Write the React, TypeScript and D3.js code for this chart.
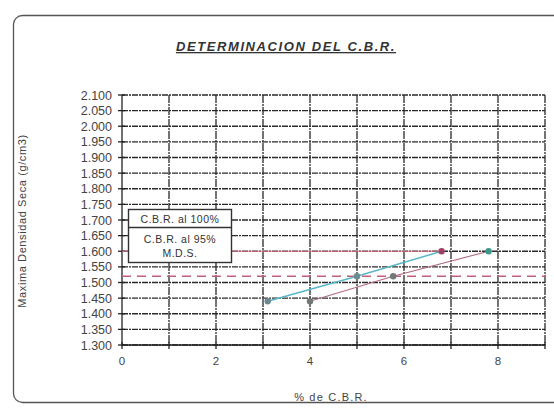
import React from "react";
import * as d3 from "d3";

const title = "DETERMINACION DEL C.B.R.";
const xLabel = "% de C.B.R.";
const yLabel = "Maxima Densidad Seca (g/cm3)";
const legendLines = ["C.B.R. al 100%", "C.B.R. al 95%", "M.D.S."];

const seriesA_x = [3.1, 5.0, 6.8];
const seriesA_y = [1.44, 1.52, 1.6];
const seriesB_x = [4.0, 5.77, 7.8];
const seriesB_y = [1.44, 1.52, 1.6];
const mds100 = 1.6;
const mds95 = 1.52;

const xTicks = [0, 2, 4, 6, 8];
const yTicks = d3.range(0, 17).map((i) => +(1.3 + i * 0.05).toFixed(3));

const W = 554;
const H = 408;
const x = d3.scaleLinear().domain([0, 9]).range([122, 545]);
const y = d3.scaleLinear().domain([1.3, 2.1]).range([345, 95]);

const fmt = (v: number) => v.toFixed(3);

export default function App() {
  const line = d3
    .line<[number, number]>()
    .x((d) => x(d[0]))
    .y((d) => y(d[1]));
  const ptsA = seriesA_x.map((v, i) => [v, seriesA_y[i]] as [number, number]);
  const ptsB = seriesB_x.map((v, i) => [v, seriesB_y[i]] as [number, number]);
  const font = "'Liberation Sans', Arial, sans-serif";
  return (
    <svg
      width={W}
      height={H}
      style={{ position: "absolute", left: 0, top: 0, background: "#fff" }}
      fontFamily={font}
    >
      <rect x={13.5} y={15.5} width={570} height={387} rx={9} fill="#fff" stroke="#555" strokeWidth={1.3} />
      <text x={286} y={51} textAnchor="middle" fontSize={13} fontWeight="bold" fontStyle="italic" fill="#333" textDecoration="underline" letterSpacing={1.6}>
        {title}
      </text>
      {/* horizontal grid */}
      {yTicks.map((t) => (
        <line key={"h" + t} x1={x(0)} x2={x(9)} y1={y(t)} y2={y(t)} stroke="#2a2a2a" strokeWidth={1.3} strokeDasharray="6,1,2,1" />
      ))}
      {/* vertical grid */}
      {d3.range(1, 10).map((t) => (
        <line key={"v" + t} x1={x(t)} x2={x(t)} y1={y(2.1)} y2={y(1.3)} stroke="#2a2a2a" strokeWidth={1.3} strokeDasharray="8,1,2,1" />
      ))}
      {/* axes */}
      <line x1={x(0)} x2={x(0)} y1={y(2.1)} y2={y(1.3)} stroke="#222" strokeWidth={1.3} />
      <line x1={x(0)} x2={x(9)} y1={y(1.3)} y2={y(1.3)} stroke="#222" strokeWidth={1.3} />
      {yTicks.map((t) => (
        <line key={"yt" + t} x1={x(0) - 4} x2={x(0) + 3} y1={y(t)} y2={y(t)} stroke="#222" strokeWidth={1.3} />
      ))}
      {d3.range(0, 10).map((t) => (
        <line key={"xt" + t} x1={x(t)} x2={x(t)} y1={y(1.3) - 3} y2={y(1.3) + 4} stroke="#222" strokeWidth={1.3} />
      ))}
      {yTicks.map((t) => (
        <text key={"yl" + t} x={112} y={y(t) + 4.5} textAnchor="end" fontSize={12.5} fill="#444">
          {fmt(t)}
        </text>
      ))}
      {xTicks.map((t) => (
        <text key={"xl" + t} x={x(t)} y={365} textAnchor="middle" fontSize={11.5} fill="#444">
          {t}
        </text>
      ))}
      <text x={331} y={401} textAnchor="middle" fontSize={11} fill="#444" letterSpacing={1.2}>
        {xLabel}
      </text>
      <text transform={`translate(26,221) rotate(-90)`} textAnchor="middle" fontSize={11} fill="#444" letterSpacing={0.6}>
        {yLabel}
      </text>
      {/* reference lines */}
      <line x1={x(0)} x2={x(seriesA_x[2])} y1={y(mds100)} y2={y(mds100)} stroke="#e07a8a" strokeWidth={1.2} />
      <line x1={x(0)} x2={x(9)} y1={y(mds95)} y2={y(mds95)} stroke="#c06078" strokeWidth={1.3} strokeDasharray="9,6" />
      {/* series */}
      <path d={line(ptsA) || ""} fill="none" stroke="#58b8c8" strokeWidth={1.5} />
      <path d={line(ptsB) || ""} fill="none" stroke="#b06a80" strokeWidth={1.1} />
      {ptsA.map((p, i) => (
        <circle key={"a" + i} cx={x(p[0])} cy={y(p[1])} r={3.2} fill={i === 2 ? "#a04060" : "#6a8a90"} />
      ))}
      {ptsB.map((p, i) => (
        <circle key={"b" + i} cx={x(p[0])} cy={y(p[1])} r={3.2} fill={i === 2 ? "#3a9a8a" : "#707878"} />
      ))}
      {/* legend box */}
      <rect x={128.5} y={209.5} width={103} height={53} fill="#fff" stroke="#333" strokeWidth={1.4} />
      <line x1={128.5} x2={231.5} y1={227.5} y2={227.5} stroke="#333" strokeWidth={1.3} />
      <text x={180} y={222.5} textAnchor="middle" fontSize={10.5} fill="#333" letterSpacing={0.5}>{legendLines[0]}</text>
      <text x={180} y={243} textAnchor="middle" fontSize={10.5} fill="#333" letterSpacing={0.5}>{legendLines[1]}</text>
      <text x={180} y={257} textAnchor="middle" fontSize={10.5} fill="#333" letterSpacing={0.5}>{legendLines[2]}</text>
    </svg>
  );
}
